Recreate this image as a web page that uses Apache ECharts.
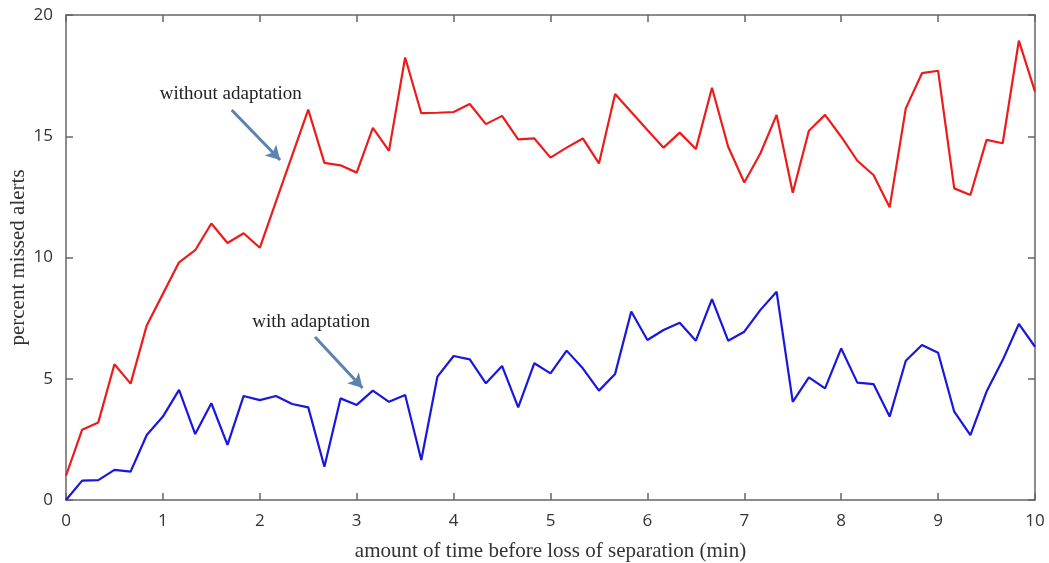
<!DOCTYPE html>
<html>
<head>
<meta charset="utf-8">
<script src="https://cdn.jsdelivr.net/npm/echarts@6/dist/echarts.min.js"></script>
<style>
  html, body { margin: 0; padding: 0; background: #fff; }
  #chart { width: 1049px; height: 563px; }
</style>
</head>
<body>
<div id="chart"></div>
<script>
// Time before loss of separation, sampled every 10 s (1/6 min), 0..10 min
const sampleCount = 61;
const timeMinutes = Array.from({ length: sampleCount }, (_, i) => i / 6);

// Percent missed alerts without adaptation
const withoutAdaptation = [
  1.0, 2.9, 3.2, 5.6, 4.8, 7.2, 8.5, 9.8, 10.3, 11.4, 10.6, 11.0,
  10.4, 12.3, 14.2, 16.1, 13.9, 13.8, 13.5, 15.35, 14.4, 18.25, 15.95, 15.97,
  16.0, 16.33, 15.5, 15.84, 14.87, 14.91, 14.12, 14.53, 14.91, 13.88, 16.74, 16.0,
  15.26, 14.53, 15.15, 14.47, 17.0, 14.57, 13.09, 14.3, 15.88, 12.67, 15.23, 15.88,
  14.98, 13.99, 13.4, 12.07, 16.15, 17.6, 17.7, 12.85, 12.58, 14.85, 14.71, 18.94,
  16.84
];

// Percent missed alerts with adaptation
const withAdaptation = [
  0.0, 0.8, 0.82, 1.24, 1.17, 2.68, 3.44, 4.54, 2.72, 3.99, 2.27, 4.29,
  4.12, 4.29, 3.96, 3.82, 1.37, 4.19, 3.92, 4.51, 4.05, 4.33, 1.65, 5.09,
  5.94, 5.8, 4.81, 5.53, 3.82, 5.64, 5.22, 6.16, 5.43, 4.51, 5.2, 7.77,
  6.6, 7.01, 7.31, 6.57, 8.28, 6.57, 6.94, 7.84, 8.59, 4.05, 5.06, 4.6,
  6.25, 4.84, 4.78, 3.44, 5.74, 6.39, 6.07, 3.64, 2.68, 4.47, 5.77, 7.26,
  6.32
];

// Annotation text and arrows, in data units (minutes, percent)
const annotations = [
  { text: 'without adaptation', at: [1.70, 16.74], arrowFrom: [1.71, 16.08], arrowTo: [2.21, 14.02] },
  { text: 'with adaptation', at: [2.53, 7.34], arrowFrom: [2.57, 6.72], arrowTo: [3.06, 4.62] }
];

const xTicks = [0, 1, 2, 3, 4, 5, 6, 7, 8, 9, 10];
const yTicks = [0, 5, 10, 15, 20];

const frameColor = '#666';
const tickFont = { fontFamily: 'Open Sans', fontSize: 17, color: '#333' };
const serif = 'Liberation Serif';
const arrowColor = '#5a83b0';

const pairs = (ys) => ys.map((v, i) => [timeMinutes[i], v]);

const axisBase = (extra) => Object.assign({
  type: 'value',
  axisLine: { show: true, onZero: false, lineStyle: { color: frameColor, width: 1.5 } },
  axisTick: { show: true, inside: true, length: 7, lineStyle: { color: frameColor, width: 1.5 } },
  splitLine: { show: false }
}, extra);

const chart = echarts.init(document.getElementById('chart'), null, { renderer: 'canvas' });

chart.setOption({
  animation: false,
  backgroundColor: '#fff',
  grid: { left: 66, right: 14, top: 15, bottom: 63, containLabel: false, outerBoundsMode: 'none' },
  xAxis: [
    axisBase({
      position: 'bottom', min: xTicks[0], max: xTicks[xTicks.length - 1], interval: 1,
      axisLabel: Object.assign({ margin: 13 }, tickFont),
      name: 'amount of time before loss of separation (min)',
      nameLocation: 'middle', nameGap: 41, nameMoveOverlap: false,
      nameTextStyle: { fontFamily: serif, fontSize: 21, color: '#333' }
    }),
    axisBase({
      position: 'top', min: xTicks[0], max: xTicks[xTicks.length - 1], interval: 1,
      axisLabel: { show: false }
    })
  ],
  yAxis: [
    axisBase({
      position: 'left', min: yTicks[0], max: yTicks[yTicks.length - 1], interval: 5,
      axisLabel: Object.assign({ margin: 13 }, tickFont),
      name: 'percent missed alerts',
      nameLocation: 'middle', nameGap: 37, nameMoveOverlap: false,
      nameTextStyle: { fontFamily: serif, fontSize: 21, color: '#333' }
    }),
    axisBase({
      position: 'right', min: yTicks[0], max: yTicks[yTicks.length - 1], interval: 5,
      axisLabel: { show: false }
    })
  ],
  series: [
    {
      name: 'without adaptation',
      type: 'line',
      data: pairs(withoutAdaptation),
      showSymbol: false,
      lineStyle: { color: '#ee1b1b', width: 2.2 },
      z: 3,
      markPoint: {
        symbol: 'circle', symbolSize: 0,
        label: { show: true, position: 'inside', fontFamily: serif, fontSize: 19, color: '#222', formatter: (p) => p.name },
        data: annotations.map((a) => ({ name: a.text, coord: a.at }))
      },
      markLine: {
        silent: true,
        symbol: ['none', 'arrow'],
        symbolSize: [12, 14],
        label: { show: false },
        lineStyle: { color: arrowColor, width: 3, type: 'solid' },
        data: annotations.map((a) => [{ coord: a.arrowFrom }, { coord: a.arrowTo }])
      }
    },
    {
      name: 'with adaptation',
      type: 'line',
      data: pairs(withAdaptation),
      showSymbol: false,
      lineStyle: { color: '#1717dd', width: 2.2 },
      z: 3
    }
  ]
});
</script>
</body>
</html>
